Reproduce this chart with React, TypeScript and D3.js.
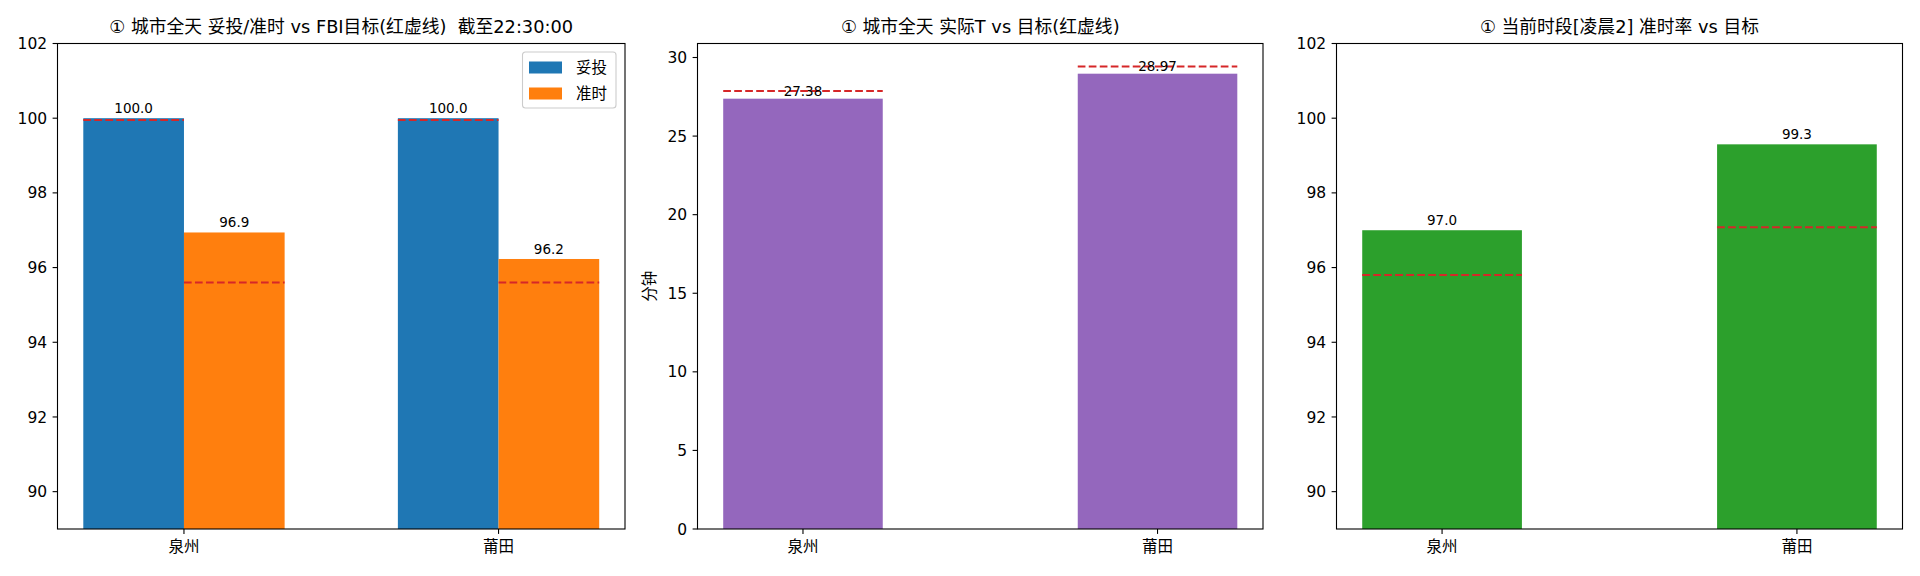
import { useEffect } from "react";
import * as d3 from "d3";

// categories
const cities = ["泉州", "莆田"];

// panel 1: full-day delivered / on-time rate vs FBI target
const deliveredRate = [100.0, 100.0];
const onTimeRate = [96.94, 96.23];
const deliveredTarget = [99.95, 99.95];
const onTimeTarget = [95.6, 95.6];

// panel 2: actual T (minutes) vs target
const actualT = [27.38, 28.97];
const targetT = [27.87, 29.42];

// panel 3: current period on-time rate vs target
const periodRate = [97.0, 99.3];
const periodTarget = [95.8, 97.08];

const rateTicks = [90, 92, 94, 96, 98, 100, 102];
const minuteTicks = [0, 5, 10, 15, 20, 25, 30];

const titles = [
  "① 城市全天 妥投/准时 vs FBI目标(红虚线)  截至22:30:00",
  "① 城市全天 实际T vs 目标(红虚线)",
  "① 当前时段[凌晨2] 准时率 vs 目标",
];

const FONT = "'DejaVu Sans', 'Noto Sans CJK SC', sans-serif";
const BLUE = "#1f77b4";
const ORANGE = "#ff7f0e";
const PURPLE = "#9467bd";
const GREEN = "#2ca02c";
const RED = "#d62728";

const TOP = 43.5;
const BOTTOM = 529;
const TICK = 4.9;
const TICK_FONT = 15.5;
const LABEL_FONT = 13.5;
const TITLE_FONT = 17.8;

interface Bar {
  x: number; // category center offset in data units
  w: number;
  value: number;
  target: number;
  color: string;
  fmt: string;
}

interface PanelProps {
  left: number;
  right: number;
  title: string;
  yDomain: [number, number];
  yTicks: number[];
  bars: Bar[];
  labelGap: number;
  ylabel?: string;
  legend?: { label: string; color: string }[];
}

function Panel({ left, right, title, yDomain, yTicks, bars, labelGap, ylabel, legend }: PanelProps) {
  // x limits with 5% margin like matplotlib autoscale
  const lo = d3.min(bars, (b) => b.x - b.w / 2) as number;
  const hi = d3.max(bars, (b) => b.x + b.w / 2) as number;
  const pad = (hi - lo) * 0.05;
  const x = d3.scaleLinear().domain([lo - pad, hi + pad]).range([left, right]);
  const y = d3.scaleLinear().domain(yDomain).range([BOTTOM, TOP]);

  return (
    <g>
      <text
        x={(left + right) / 2}
        y={TOP - 11}
        textAnchor="middle"
        fontSize={TITLE_FONT}
        fill="#000"
        xmlSpace="preserve"
      >
        {title}
      </text>
      {bars.map((b, i) => {
        const x0 = x(b.x - b.w / 2);
        const x1 = x(b.x + b.w / 2);
        const yt = y(b.value);
        return <rect key={i} x={x0} y={yt} width={x1 - x0} height={BOTTOM - yt} fill={b.color} />;
      })}
      {bars.map((b, i) => {
        const x0 = x(b.x - b.w / 2);
        const x1 = x(b.x + b.w / 2);
        return (
          <line
            key={"t" + i}
            x1={x0}
            x2={x1}
            y1={y(b.target)}
            y2={y(b.target)}
            stroke={RED}
            strokeWidth={2}
            strokeDasharray="7.7 3.3"
          />
        );
      })}
      {bars.map((b, i) => (
        <text
          key={"l" + i}
          x={x(b.x)}
          y={y(b.value) - labelGap}
          textAnchor="middle"
          fontSize={LABEL_FONT}
          fill="#000"
        >
          {d3.format(b.fmt)(b.value)}
        </text>
      ))}
      {/* y axis */}
      {yTicks.map((t) => (
        <g key={t} transform={`translate(${left},${y(t)})`}>
          <line x1={-TICK} x2={0} stroke="#000" strokeWidth={1.1} />
          <text x={-TICK - 5.5} dy="0.36em" textAnchor="end" fontSize={TICK_FONT} fill="#000">
            {t}
          </text>
        </g>
      ))}
      {/* x axis */}
      {cities.map((c, i) => (
        <g key={c} transform={`translate(${x(i)},${BOTTOM})`}>
          <line y1={0} y2={TICK} stroke="#000" strokeWidth={1.1} />
          <text y={TICK + 4.5} dy="0.88em" textAnchor="middle" fontSize={TICK_FONT} fill="#000">
            {c}
          </text>
        </g>
      ))}
      {ylabel && (
        <text
          transform={`translate(${left - 48},${(TOP + BOTTOM) / 2}) rotate(-90)`}
          textAnchor="middle"
          dy="0.35em"
          fontSize={TICK_FONT}
          fill="#000"
        >
          {ylabel}
        </text>
      )}
      <rect
        x={left}
        y={TOP}
        width={right - left}
        height={BOTTOM - TOP}
        fill="none"
        stroke="#000"
        strokeWidth={1.1}
      />
      {legend && (
        <g transform={`translate(${right - 102.5},${TOP + 8.5})`}>
          <rect
            width={93.5}
            height={56}
            rx={3}
            fill="#fff"
            fillOpacity={0.8}
            stroke="#cccccc"
            strokeWidth={1.1}
          />
          {legend.map((l, i) => (
            <g key={l.label} transform={`translate(0,${15.5 + i * 26})`}>
              <rect x={6.5} y={-6} width={33} height={12} fill={l.color} />
              <text x={53.5} dy="0.36em" fontSize={TICK_FONT} fill="#000">
                {l.label}
              </text>
            </g>
          ))}
        </g>
      )}
    </g>
  );
}

export default function App() {
  useEffect(() => {
    document.body.style.margin = "0";
  }, []);

  const groupW = 0.32;
  const bars1: Bar[] = [];
  cities.forEach((_, i) => {
    bars1.push({ x: i - groupW / 2, w: groupW, value: deliveredRate[i], target: deliveredTarget[i], color: BLUE, fmt: ".1f" });
    bars1.push({ x: i + groupW / 2, w: groupW, value: onTimeRate[i], target: onTimeTarget[i], color: ORANGE, fmt: ".1f" });
  });

  const bars2: Bar[] = cities.map((_, i) => ({
    x: i, w: 0.45, value: actualT[i], target: targetT[i], color: PURPLE, fmt: ".2f",
  }));
  const maxT = d3.max([...actualT, ...targetT]) as number;

  const bars3: Bar[] = cities.map((_, i) => ({
    x: i, w: 0.45, value: periodRate[i], target: periodTarget[i], color: GREEN, fmt: ".1f",
  }));

  return (
    <svg
      width={1920}
      height={576}
      style={{ position: "absolute", left: 0, top: 0, background: "#fff", fontFamily: FONT }}
    >
      <rect width={1920} height={576} fill="#fff" />
      <Panel
        left={57.5}
        right={625}
        title={titles[0]}
        yDomain={[89, 102]}
        yTicks={rateTicks}
        bars={bars1}
        labelGap={5}
        legend={[
          { label: "妥投", color: BLUE },
          { label: "准时", color: ORANGE },
        ]}
      />
      <Panel
        left={697.5}
        right={1263}
        title={titles[1]}
        yDomain={[0, maxT * 1.05]}
        yTicks={minuteTicks}
        bars={bars2}
        labelGap={3}
        ylabel="分钟"
      />
      <Panel
        left={1336.5}
        right={1902.5}
        title={titles[2]}
        yDomain={[89, 102]}
        yTicks={rateTicks}
        bars={bars3}
        labelGap={5}
      />
    </svg>
  );
}
